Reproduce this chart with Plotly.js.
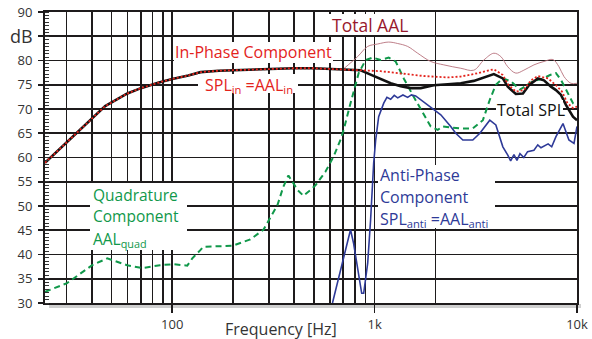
<!DOCTYPE html>
<html>
<head>
<meta charset="utf-8">
<script src="https://cdn.plot.ly/plotly-3.0.1.min.js"></script>
<style>html,body{margin:0;padding:0;background:#fff;}#chart{width:592px;height:339px;}</style>
</head>
<body>
<div id="chart"></div>
<script>
// ---- Data ----
const totalSplFreq = [23.5, 30, 40, 46.6, 60, 70, 85, 100, 120, 138, 170, 200, 250, 300, 400, 500, 600, 700, 800, 853, 955, 1071, 1200, 1345, 1507, 1690, 1959, 2297, 2665, 3090, 3465, 3883, 4301, 4550, 4987, 5405, 5786, 6411, 6867, 7435, 7871, 8337, 8830, 9554, 10000];
const totalSplDb   = [58.9, 63.1, 68.0, 70.6, 73.2, 74.3, 75.4, 76.2, 76.9, 77.6, 77.9, 78.0, 78.2, 78.3, 78.4, 78.4, 78.3, 78.2, 78.1, 78.0, 77.1, 76.2, 75.3, 74.7, 74.3, 74.3, 74.9, 75.1, 75.3, 75.8, 76.5, 77.2, 76.3, 74.6, 73.1, 73.2, 74.9, 76.3, 75.9, 74.6, 73.9, 72.9, 70.8, 68.4, 67.7];

const inPhaseFreq = [23.5, 30, 40, 46.6, 60, 70, 85, 100, 120, 138, 170, 200, 250, 300, 400, 500, 600, 700, 800, 853, 955, 1071, 1200, 1507, 1750, 2297, 2665, 3090, 3465, 3883, 4301, 4595, 4987, 5460, 5915, 6411, 7199, 7871, 8430, 8970, 9554, 10000];
const inPhaseDb   = [58.9, 63.1, 68.0, 70.6, 73.2, 74.3, 75.4, 76.2, 76.9, 77.6, 77.9, 78.0, 78.2, 78.3, 78.4, 78.4, 78.3, 78.2, 78.1, 78.0, 77.9, 77.8, 77.6, 77.2, 76.8, 76.5, 76.7, 77.2, 77.7, 78.2, 77.0, 74.9, 73.6, 73.9, 75.9, 76.8, 76.3, 74.9, 73.6, 71.2, 70.2, 70.5];

const totalAalFreq = [703, 824, 924, 1035, 1173, 1300, 1456, 1632, 1893, 2197, 2665, 3090, 3465, 3883, 4206, 4550, 4987, 5460, 6127, 6867, 7604, 8150, 8620, 9330, 10000];
const totalAalDb   = [78.3, 80.8, 82.9, 83.4, 83.8, 83.5, 82.9, 81.5, 79.8, 79.1, 78.4, 78.0, 80.1, 81.5, 80.8, 78.7, 77.4, 78.0, 79.1, 79.8, 80.2, 78.7, 76.7, 75.3, 75.3];

const quadFreq = [23.5, 30.2, 40.2, 47.7, 59.8, 71, 87, 101, 118.6, 125.6, 137.6, 142.3, 198, 243, 282, 331, 354, 375, 416, 445, 482, 511, 572, 627, 679, 703, 760, 834, 903, 977, 1071, 1173, 1270, 1393, 1560, 1729, 1893, 2051, 2172, 2635, 3055, 3427, 3707, 3972, 4301, 4715, 5226, 6053, 6795, 7360, 7871, 8337, 8830, 9554, 10000];
const quadDb   = [32.3, 34.1, 37.8, 39.2, 37.8, 37.2, 37.8, 38.0, 37.7, 39.2, 40.9, 41.6, 41.8, 43.1, 45.1, 50.2, 54.0, 56.3, 53.3, 52.1, 53.3, 54.3, 57.1, 60.2, 63.7, 65.7, 71.2, 77.4, 80.1, 80.6, 80.1, 80.6, 79.8, 76.3, 72.5, 69.1, 66.4, 65.7, 66.4, 66.0, 66.0, 67.7, 71.9, 75.0, 76.3, 75.7, 74.0, 75.7, 76.3, 77.0, 77.4, 76.0, 73.9, 71.2, 70.5];

const antiFreq = [619, 679, 735, 760, 787, 834, 863, 883, 924, 955, 989, 1012, 1047, 1109, 1150, 1200, 1250, 1300, 1380, 1456, 1520, 1595, 1749, 1937, 2123, 2377, 2517, 2728, 3055, 3311, 3707, 3972, 4301, 4550, 4700, 4880, 5050, 5226, 5460, 5700, 6127, 6400, 6637, 7199, 7500, 7871, 8526, 9120, 9666, 10000];
const antiDb   = [30.0, 36.8, 42.3, 45.1, 42.3, 36.1, 32.0, 32.0, 38.2, 47.1, 58.8, 63.6, 68.4, 71.2, 72.4, 72.0, 72.8, 72.3, 72.9, 72.4, 72.9, 72.7, 71.5, 70.1, 68.8, 66.4, 65.0, 63.6, 63.6, 65.0, 67.7, 66.7, 62.2, 60.5, 59.3, 60.6, 59.4, 60.8, 60.0, 61.2, 61.5, 62.6, 62.0, 62.8, 62.2, 64.3, 67.0, 63.6, 62.9, 66.4];

const yTickVals = [30, 35, 40, 45, 50, 55, 60, 65, 70, 75, 80, 85, 90];
const yTickText = ['30', '35', '40', '45', '50', '55', '60', '65', '70', '75', '80', '', '90'];
const xTickVals = [100, 1000, 10000];
const xTickText = ['100', '1k', '10k'];
const xGridVals = [30, 40, 50, 60, 70, 80, 90, 200, 300, 400, 500, 600, 700, 800, 900, 2000];

// ---- Styling ----
const FONT = 'Open Sans, Noto Sans, sans-serif';
const GRID = '#1e1b1c';
const RED = '#e3231c';
const GREEN = '#10984a';
const BLUE = '#2e3a98';
const DARKRED = '#98182c';

const L = 45, R = 577, T = 12, B = 303;
const px = v => (v - L) / (R - L);
const py = v => (B - v) / (B - T);

const traces = [
  {x: quadFreq, y: quadDb, mode: 'lines', line: {color: GREEN, width: 2, dash: '6px,4px'}},
  {x: antiFreq, y: antiDb, mode: 'lines', line: {color: BLUE, width: 1.6}},
  {x: totalAalFreq, y: totalAalDb, mode: 'lines', line: {color: '#b7707c', width: 0.9, shape: 'spline'}},
  {x: totalSplFreq, y: totalSplDb, mode: 'lines', line: {color: '#111', width: 2.6}},
  {x: inPhaseFreq, y: inPhaseDb, mode: 'lines', line: {color: RED, width: 1.8, dash: '2px,2px'}}
];

function box(x0, y0, x1, y1) {
  return {type: 'rect', xref: 'paper', yref: 'paper', x0: px(x0), x1: px(x1), y0: py(y1), y1: py(y0),
          fillcolor: '#fff', line: {width: 0}, layer: 'above'};
}
function label(text, x, y, color, anchor, size) {
  return {text: text, x: px(x), y: py(y), xref: 'paper', yref: 'paper', showarrow: false,
          xanchor: anchor || 'left', yanchor: 'middle', font: {family: FONT, size: size || 16, color: color}};
}

const layout = {
  width: 592, height: 339,
  margin: {l: L, r: 592 - R, t: T, b: 339 - B},
  paper_bgcolor: '#fff', plot_bgcolor: '#fff',
  showlegend: false,
  font: {family: FONT, color: '#333'},
  xaxis: {
    type: 'log', range: [Math.log10(23.5), 4],
    tickmode: 'array', tickvals: xTickVals, ticktext: xTickText,
    ticks: 'outside', ticklen: 8, tickwidth: 1.6, tickcolor: GRID,
    showgrid: true, gridcolor: GRID, gridwidth: 1.6,
    minor: {tickmode: 'array', tickvals: xGridVals, ticks: '', showgrid: true, gridcolor: GRID, gridwidth: 1.6},
    showline: true, mirror: true, linecolor: GRID, linewidth: 2,
    tickfont: {size: 13, color: '#333', family: FONT},
    zeroline: false, fixedrange: true
  },
  yaxis: {
    range: [30, 90],
    tickmode: 'array', tickvals: yTickVals, ticktext: yTickText,
    ticks: 'outside', ticklen: 5, tickwidth: 1.6, tickcolor: GRID,
    showgrid: true, gridcolor: GRID, gridwidth: 1.6,
    minor: {tick0: 30, dtick: 5 / 7, ticks: 'inside', ticklen: 4, tickwidth: 1, tickcolor: '#333', showgrid: false},
    showline: true, mirror: true, linecolor: GRID, linewidth: 2,
    tickfont: {size: 13, color: '#333', family: FONT},
    ticklabelstandoff: 3,
    zeroline: false, fixedrange: true
  },
  shapes: [
    {type: 'rect', xref: 'paper', yref: 'paper', x0: px(49), x1: px(581), y0: py(308), y1: py(304),
     fillcolor: '#cfcfcf', line: {width: 0}, layer: 'below'},
    box(174, 42, 333, 63),
    box(198, 74, 298, 93),
    box(326, 14, 415, 35),
    box(496, 100, 563, 120),
    box(378, 165, 495, 228),
    box(90, 183, 187, 250)
  ],
  annotations: [
    label('dB', 21, 36, '#333', 'center', 18),
    label('Frequency [Hz]', 281, 329, '#333', 'center', 16),
    label('In-Phase Component', 253, 52, RED, 'center'),
    label('SPL<sub>in</sub> =AAL<sub>in</sub>', 249, 85, RED, 'center'),
    label('Total AAL', 370, 25, DARKRED, 'center', 17.5),
    label('Total SPL', 531, 110, '#111', 'center'),
    label('Anti-Phase', 378, 175, BLUE),
    label('Component', 378, 197, BLUE),
    label('SPL<sub>anti</sub> =AAL<sub>anti</sub>', 378, 219, BLUE),
    label('Quadrature', 91, 195, GREEN, 'left', 15.5),
    label('Component', 91, 216, GREEN, 'left', 15.5),
    label('AAL<sub>quad</sub>', 91, 239, GREEN, 'left', 15.5)
  ]
};

Plotly.newPlot('chart', traces, layout, {staticPlot: true, displayModeBar: false});
</script>
</body>
</html>
